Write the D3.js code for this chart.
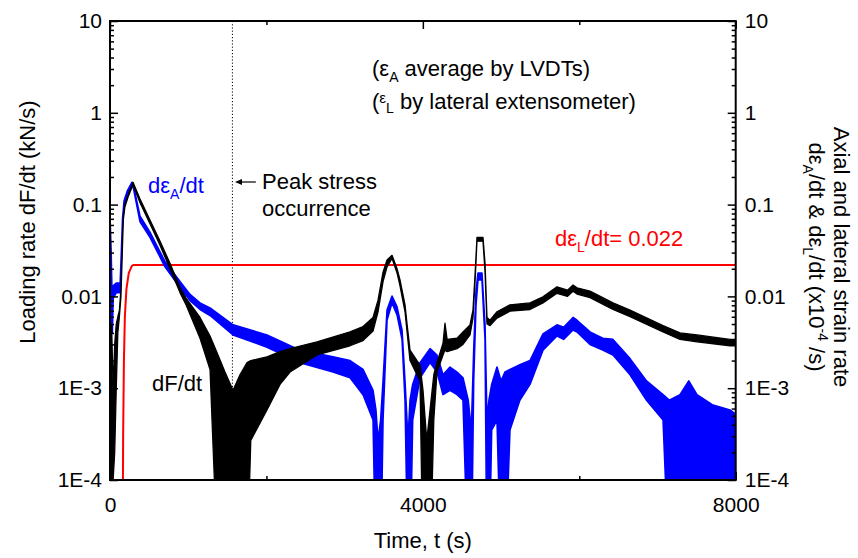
<!DOCTYPE html>
<html><head><meta charset="utf-8">
<script src="https://cdn.jsdelivr.net/npm/d3@7"></script>
<style>
body{margin:0;background:#fff;}
text{font-family:"Liberation Sans",Arial,sans-serif;}
</style></head>
<body><svg id="c" width="858" height="558"></svg>
<script>
// ---------- data ----------
const xTicksMajor = [0, 4000, 8000];
const xTicksMinor = [2000, 6000];
const yTicksMajor = [10, 1, 0.1, 0.01, 0.001, 0.0001];
const yTickLabels = ["10", "1", "0.1", "0.01", "1E-3", "1E-4"];
const peakStressTime = 1565;
const lateralRateValue = 0.022;

// dF/dt (black) : time, upper and lower envelope of the noisy trace
const forceT = [0,20,40,60,80,100,120,140,155,170,190,230,294,384,511,639,767,895,972,1151,1279,1381,1470,1573,1662,1752,1800,2007,2174,2302,2647,3069,3235,3363,3427,3491,3542,3606,3670,3708,3772,3797,3836,3925,3964,4002,4050,4092,4140,4181,4258,4283,4310,4437,4513,4603,4641,4670,4692,4769,4795,4820,4859,4948,5114,5370,5536,5715,5850,5920,5971,6137,6431,6649,7071,7288,7505,7927,8000];
const forceHi = [0.0008,0.005,0.001,0.003,0.005,0.006,0.007,0.012,0.03,0.075,0.1,0.127,0.175,0.115,0.068,0.040,0.023,0.0125,0.0096,0.0059,0.0037,0.0023,0.0015,0.00095,0.0014,0.0019,0.0020,0.0022,0.0025,0.0027,0.0032,0.0041,0.0047,0.0059,0.0091,0.0184,0.025,0.028,0.020,0.0151,0.0081,0.0051,0.0026,0.0020,0.0018,0.00095,0.00027,0.00058,0.0014,0.0019,0.0031,0.0051,0.0034,0.0035,0.0041,0.0049,0.0071,0.019,0.044,0.044,0.023,0.0059,0.0055,0.0068,0.0081,0.0085,0.0099,0.0127,0.0117,0.0133,0.0124,0.0114,0.0085,0.0071,0.0048,0.0040,0.0038,0.0034,0.0034];
const forceLo = [1e-5,1e-5,0.0001,0.0002,0.001,0.004,0.006,0.010,0.026,0.068,0.094,0.12,0.164,0.105,0.062,0.036,0.020,0.011,0.0081,0.0035,0.0016,1e-5,1e-5,1e-5,1e-5,1e-5,0.00027,0.00058,0.0011,0.0015,0.0023,0.0029,0.0033,0.0042,0.0068,0.0145,0.021,0.026,0.018,0.0130,0.0068,0.0042,0.0020,0.0014,0.0012,1e-5,1e-5,1e-5,0.00045,0.0015,0.0023,0.0026,0.0025,0.0027,0.0030,0.0038,0.0058,0.0160,0.040,0.040,0.0185,0.0050,0.0048,0.0058,0.0069,0.0072,0.0085,0.0108,0.0100,0.0114,0.0106,0.0097,0.0072,0.0060,0.0041,0.0034,0.0032,0.0029,0.0029];

// d(epsA)/dt (blue)
const axialT = [0,15,30,40,80,130,145,160,180,220,280,300,384,511,703,895,1023,1151,1279,1573,2007,2429,2851,3069,3235,3363,3400,3427,3460,3491,3542,3606,3670,3734,3772,3810,3836,3870,3964,4092,4181,4258,4347,4437,4513,4580,4620,4650,4680,4705,4756,4795,4820,4845,4880,4948,5000,5050,5114,5240,5370,5536,5715,5800,5920,5971,6137,6300,6431,6649,6860,7071,7150,7288,7400,7505,7700,7927,8000];
const axialHi = [0.075,0.03,0.007,0.013,0.014,0.014,0.03,0.07,0.11,0.14,0.175,0.16,0.075,0.05,0.024,0.0145,0.0105,0.0085,0.0075,0.0049,0.0038,0.0026,0.0022,0.0020,0.0016,0.00095,0.00058,0.00027,0.00045,0.0012,0.0071,0.0101,0.0077,0.0043,0.0012,0.00027,0.00074,0.0011,0.0019,0.0027,0.0023,0.0014,0.0017,0.0015,0.0013,0.00074,0.00035,0.0026,0.0117,0.018,0.018,0.0049,0.00045,0.00074,0.0011,0.0017,0.0012,0.0015,0.0016,0.0018,0.0020,0.0039,0.0049,0.0046,0.0059,0.0055,0.0041,0.0035,0.0034,0.0021,0.0012,0.00085,0.00074,0.00085,0.0012,0.00085,0.00066,0.00058,0.00052];
const axialLo = [0.001,0.004,0.004,0.0095,0.011,0.011,0.025,0.06,0.10,0.13,0.165,0.15,0.065,0.044,0.021,0.0125,0.0090,0.0072,0.0062,0.0038,0.0028,0.0019,0.0015,0.0013,0.00085,0.00045,1e-5,1e-5,1e-5,0.00045,0.0055,0.0085,0.0063,0.0034,0.00074,1e-5,1e-5,0.00045,0.0013,0.0019,0.0015,0.00085,0.00095,0.00085,0.00074,1e-5,1e-5,0.0012,0.0081,0.0151,0.0151,0.0034,1e-5,1e-5,0.00035,0.00045,1e-5,1e-5,0.00035,0.00074,0.0011,0.0026,0.0037,0.0034,0.0043,0.0041,0.0030,0.0026,0.0023,0.0014,0.00074,0.00045,1e-5,1e-5,1e-5,1e-5,1e-5,1e-5,1e-5];

// d(epsL)/dt (red)
const lateralT = [5,12,18,25,160,168,178,190,210,240,280,300,8000];
const lateralV = [1e-5,0.0002,0.0002,1e-5,1e-5,0.0003,0.002,0.006,0.012,0.018,0.0215,0.022,0.022];

// ---------- chart ----------
const svg = d3.select("#c");
const L = 110, R = 735.7, T = 21, B = 480;
const x = d3.scaleLinear().domain([0, 8000]).range([L, R]);
const y = d3.scaleLog().domain([1e-4, 10]).range([B, T]);
const FONT = '"Liberation Sans",Arial,sans-serif';

svg.append("defs").append("clipPath").attr("id", "clip")
  .append("rect").attr("x", L).attr("y", T).attr("width", R - L).attr("height", B - T);

const plot = svg.append("g").attr("clip-path", "url(#clip)");

// peak stress dotted line
plot.append("line").attr("x1", x(peakStressTime)).attr("x2", x(peakStressTime))
  .attr("y1", T).attr("y2", B).attr("stroke", "#000").attr("stroke-width", 1)
  .attr("stroke-dasharray", "1.2,2");

function band(ts, hi, lo, color, sw) {
  const d = ts.map((t, i) => ({t, hi: hi[i], lo: lo[i]}));
  const area = d3.area().x(p => x(p.t)).y0(p => y(p.lo)).y1(p => y(p.hi));
  plot.append("path").datum(d).attr("d", area)
    .attr("fill", color).attr("stroke", color).attr("stroke-width", sw)
    .attr("stroke-linejoin", "round");
}

// red lateral line
const redLine = d3.line().x((t, i) => x(t)).y((t, i) => y(lateralV[i]));
plot.append("path").datum(lateralT).attr("d", redLine)
  .attr("fill", "none").attr("stroke", "#ff0000").attr("stroke-width", 2);

band(axialT, axialHi, axialLo, "#0000ff", 1.6);
band(forceT, forceHi, forceLo, "#000000", 1.3);

// axes
const fs = "21px";
function styleAxis(g) {
  g.select(".domain").remove();
  g.selectAll(".tick line").attr("stroke", "#000").attr("stroke-width", 1.5);
  g.selectAll(".tick text").attr("font-size", fs).attr("fill", "#000").attr("font-family", FONT);
}
const minorY = [];
[1e-4, 1e-3, 1e-2, 1e-1, 1].forEach(d => { for (let k = 2; k <= 9; k++) minorY.push(d * k); });

svg.append("g").attr("transform", `translate(${L},0)`)
  .call(d3.axisLeft(y).tickValues(yTicksMajor).tickSize(-8).tickPadding(8)
    .tickFormat((d, i) => yTickLabels[i])).call(styleAxis);
svg.append("g").attr("transform", `translate(${L},0)`)
  .call(d3.axisLeft(y).tickValues(minorY).tickSize(-4).tickFormat("")).call(styleAxis);
svg.append("g").attr("transform", `translate(${R},0)`)
  .call(d3.axisRight(y).tickValues(yTicksMajor).tickSize(-8).tickPadding(9)
    .tickFormat((d, i) => yTickLabels[i])).call(styleAxis);
svg.append("g").attr("transform", `translate(${R},0)`)
  .call(d3.axisRight(y).tickValues(minorY).tickSize(-4).tickFormat("")).call(styleAxis);

svg.append("g").attr("transform", `translate(0,${B})`)
  .call(d3.axisBottom(x).tickValues(xTicksMajor).tickSize(-8).tickPadding(17)
    .tickFormat(d3.format("d"))).call(styleAxis);
svg.append("g").attr("transform", `translate(0,${B})`)
  .call(d3.axisBottom(x).tickValues(xTicksMinor).tickSize(-4).tickFormat("")).call(styleAxis);
svg.append("g").attr("transform", `translate(0,${T})`)
  .call(d3.axisTop(x).tickValues(xTicksMajor).tickSize(-8).tickFormat("")).call(styleAxis);
svg.append("g").attr("transform", `translate(0,${T})`)
  .call(d3.axisTop(x).tickValues(xTicksMinor).tickSize(-4).tickFormat("")).call(styleAxis);

// frame
svg.append("rect").attr("x", L).attr("y", T).attr("width", R - L).attr("height", B - T)
  .attr("fill", "none").attr("stroke", "#000").attr("stroke-width", 2);

// axis titles
svg.append("text").attr("transform", `translate(35,222) rotate(-90)`)
  .attr("text-anchor", "middle").attr("font-size", "22px").text("Loading rate dF/dt (kN/s)");
svg.append("text").attr("x", (L + R) / 2).attr("y", 548).attr("text-anchor", "middle")
  .attr("font-size", "22px").text("Time, t (s)");

svg.append("text").attr("transform", `translate(834,257) rotate(90)`)
  .attr("text-anchor", "middle").attr("font-size", "22px").text("Axial and lateral strain rate");
const r2 = svg.append("text").attr("transform", `translate(809,257) rotate(90)`)
  .attr("text-anchor", "middle").attr("font-size", "22px");
r2.append("tspan").text("d\u03b5");
r2.append("tspan").attr("font-size", "14px").attr("dy", 6).text("A");
r2.append("tspan").attr("dy", -6).text("/dt & d\u03b5");
r2.append("tspan").attr("font-size", "14px").attr("dy", 6).text("L");
r2.append("tspan").attr("dy", -6).text("/dt (x10");
r2.append("tspan").attr("font-size", "14px").attr("dy", -9).text("-4");
r2.append("tspan").attr("dy", 9).text(" /s)");

// annotations
const n1 = svg.append("text").attr("x", 372).attr("y", 76).attr("font-size", "22px");
n1.append("tspan").text("(\u03b5");
n1.append("tspan").attr("font-size", "14px").attr("dy", 6).text("A");
n1.append("tspan").attr("dy", -6).text(" average by LVDTs)");
const n2 = svg.append("text").attr("x", 372).attr("y", 109).attr("font-size", "22px");
n2.append("tspan").text("(");
n2.append("tspan").attr("font-size", "15px").attr("dy", -6).text("\u03b5");
n2.append("tspan").attr("font-size", "14px").attr("dy", 10).text("L");
n2.append("tspan").attr("dy", -4).text(" by lateral extensometer)");

svg.append("text").attr("x", 262).attr("y", 189).attr("font-size", "22px").text("Peak stress");
svg.append("text").attr("x", 262).attr("y", 216).attr("font-size", "22px").text("occurrence");
svg.append("line").attr("x1", 256).attr("x2", 241).attr("y1", 182).attr("y2", 182)
  .attr("stroke", "#000").attr("stroke-width", 1.2);
svg.append("path").attr("d", "M235,182 L242,179 L242,185 Z").attr("fill", "#000");

const bl = svg.append("text").attr("x", 148).attr("y", 193).attr("font-size", "22px").attr("fill", "#0000ff");
bl.append("tspan").text("d\u03b5");
bl.append("tspan").attr("font-size", "14px").attr("dy", 6).text("A");
bl.append("tspan").attr("dy", -6).text("/dt");

svg.append("text").attr("x", 152).attr("y", 391).attr("font-size", "22px").text("dF/dt");

const rl = svg.append("text").attr("x", 555).attr("y", 246).attr("font-size", "22px").attr("fill", "#ff0000");
rl.append("tspan").text("d\u03b5");
rl.append("tspan").attr("font-size", "14px").attr("dy", 6).text("L");
rl.append("tspan").attr("dy", -6).text("/dt= " + lateralRateValue);
</script></body></html>
